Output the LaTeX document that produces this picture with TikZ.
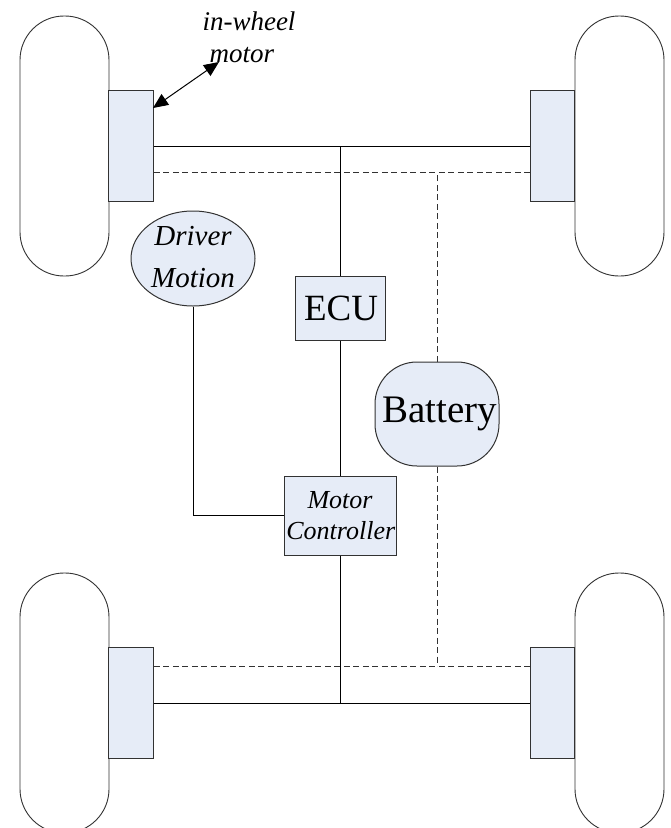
\documentclass[tikz,border=0pt]{standalone}
\usepackage{fontspec}
\setmainfont{Liberation Serif}
\usetikzlibrary{shapes.geometric,arrows.meta}
\definecolor{partblue}{RGB}{230,236,247}
\definecolor{partline}{RGB}{50,50,50}
\tikzset{
  wheel/.style={draw=partline, line width=.9pt, fill=white, rounded corners=44pt, minimum width=89pt, minimum height=260pt, inner sep=0pt},
  motorbox/.style={draw=partline, line width=1pt, fill=partblue, minimum width=44.5pt, minimum height=111.5pt, inner sep=0pt},
  part/.style={draw=partline, line width=1pt, fill=partblue, inner sep=0pt, align=center},
  wire/.style={black, line width=1pt},
  dashwire/.style={partline, line width=1pt, dash pattern=on 6pt off 3.5pt},
  caption/.style={inner sep=0pt, align=center, font=\itshape\fontsize{27}{34}\selectfont}
}

\begin{document}
\begin{tikzpicture}[x=1pt,y=-1pt]
  \useasboundingbox (0,0) rectangle (671,828);
  \clip (0,0) rectangle (671,828);
  \node [wheel] (wheelTL) at (64.5,146) {};
  \node [wheel] (wheelTR) at (619.5,146) {};
  \node [wheel] (wheelBL) at (64.5,703) {};
  \node [wheel] (wheelBR) at (619.5,703) {};
  \node [motorbox] (motorTL) at (131,146) {};
  \node [motorbox] (motorTR) at (552.5,146) {};
  \node [motorbox] (motorBL) at (131,703) {};
  \node [motorbox] (motorBR) at (552.5,703) {};
  \node [part, ellipse, minimum width=124pt, minimum height=95pt] (driver) at (193,258.5) {};
  \node [caption, font=\itshape\fontsize{29}{42}\selectfont] (drivertext) at (193,257) {Driver\\Motion};
  \node [part, minimum width=90pt, minimum height=64pt, font=\fontsize{37}{40}\selectfont] (ecu) at (340,308) {\hspace*{2pt}ECU};
  \node [part, rounded corners=42pt, minimum width=124pt, minimum height=104pt, font=\fontsize{39}{42}\selectfont] (battery) at (437,414) {\hspace*{6pt}\raisebox{-2pt}{Battery}};
  \node [part, minimum width=112pt, minimum height=79pt, font=\itshape\fontsize{26}{31}\selectfont] (controller) at (340,515.5) {Motor\\\hspace*{1.5pt}Controller};
  \node [caption] (inwheel) at (249,21) {in-wheel};
  \node [caption] (motorlabel) at (242,55) {motor};
  \coordinate (topwire) at (340,146);
  \coordinate (topdash) at (437,172);
  \coordinate (botwire) at (340,703);
  \coordinate (botdash) at (437,666);
  \coordinate (arrowfoot) at (153,108);
  \coordinate (arrowhead) at (219,62);
  \draw [wire] (motorTL.east |- topwire) -- (motorTR.west |- topwire);
  \draw [wire] (motorBL.east |- botwire) -- (motorBR.west |- botwire);
  \draw [dashwire] (motorTL.east |- topdash) -- (motorTR.west |- topdash);
  \draw [dashwire] (motorBL.east |- botdash) -- (motorBR.west |- botdash);
  \draw [wire] (topwire) -- (ecu.north);
  \draw [wire] (ecu.south) -- (controller.north);
  \draw [wire] (controller.south) -- (botwire);
  \draw [wire] (driver.south) |- (controller.west);
  \draw [dashwire] (battery.north) -- (topdash);
  \draw [dashwire] (battery.south) -- (botdash);
  \draw [wire, {Triangle[length=15pt,width=13pt]}-{Triangle[length=15pt,width=13pt]}] (arrowfoot) -- (arrowhead);
\end{tikzpicture}
\end{document}
